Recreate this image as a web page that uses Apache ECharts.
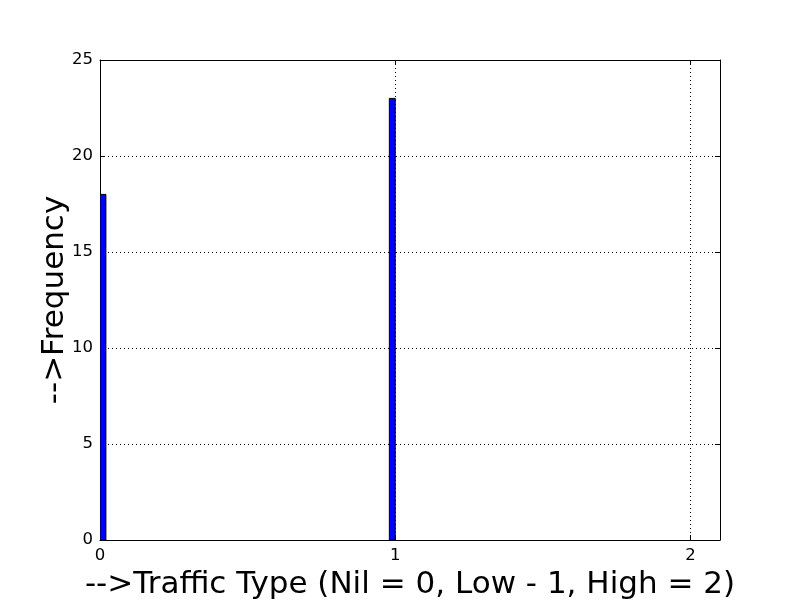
<!DOCTYPE html>
<html><head><meta charset="utf-8">
<script src="https://cdn.jsdelivr.net/npm/echarts@6/dist/echarts.min.js"></script>
<style>html,body{margin:0;padding:0;background:#fff}#c{width:800px;height:600px}</style>
</head><body><div id="c"></div>
<script>
const binStarts = [0, 0.98];
const binEnds = [0.02, 1.0];
const counts = [18, 23];
const xTicks = [0, 1, 2];
const yTicks = [0, 5, 10, 15, 20, 25];
const xTitle = '-->Traffic Type (Nil = 0, Low - 1, High = 2)';
const yTitle = '-->Frequency';

const font = 'DejaVu Sans';
const data = binStarts.map((s, i) => [s, binEnds[i], counts[i]]);
const axisLine = {show: true, onZero: false, lineStyle: {color: '#000', width: 1}};
const tick = {show: true, inside: true, length: 5, lineStyle: {color: '#000', width: 1}};

const chart = echarts.init(document.getElementById('c'), null, {renderer: 'canvas'});
chart.setOption({
  backgroundColor: '#fff',
  animation: false,
  grid: {left: 100, right: 80, top: 60, bottom: 60, containLabel: false, outerBoundsMode: 'none'},
  xAxis: [{
    type: 'value', min: 0, max: 2.1, interval: 1, position: 'bottom',
    axisLine: axisLine, axisTick: tick,
    axisLabel: {color: '#000', fontFamily: font, fontSize: 16.5, margin: 7,
      formatter: v => xTicks.indexOf(v) >= 0 ? String(v) : '', showMaxLabel: false},
    splitLine: {show: true, lineStyle: {color: '#000', type: [1, 3], width: 1}},
    name: xTitle, nameLocation: 'middle', nameGap: 29, nameMoveOverlap: false,
    nameTextStyle: {color: '#000', fontFamily: font, fontSize: 31}
  }, {
    type: 'value', min: 0, max: 2.1, interval: 1, position: 'top',
    axisLine: axisLine, axisTick: tick, axisLabel: {show: false}, splitLine: {show: false}
  }],
  yAxis: [{
    type: 'value', min: 0, max: 25, interval: 5, position: 'left',
    axisLine: axisLine, axisTick: tick,
    axisLabel: {color: '#000', fontFamily: font, fontSize: 16.5, margin: 7,
      formatter: v => yTicks.indexOf(v) >= 0 ? String(v) : ''},
    splitLine: {show: true, lineStyle: {color: '#000', type: [1, 3], width: 1}},
    name: yTitle, nameLocation: 'middle', nameGap: 30, nameMoveOverlap: false,
    nameTextStyle: {color: '#000', fontFamily: font, fontSize: 31}
  }, {
    type: 'value', min: 0, max: 25, interval: 5, position: 'right',
    axisLine: axisLine, axisTick: tick, axisLabel: {show: false}, splitLine: {show: false}
  }],
  series: [{
    type: 'custom',
    xAxisIndex: 0, yAxisIndex: 0,
    clip: true,
    data: data,
    encode: {x: [0, 1], y: 2},
    renderItem: function (params, api) {
      const p0 = api.coord([api.value(0), 0]);
      const p1 = api.coord([api.value(1), api.value(2)]);
      return {
        type: 'rect',
        shape: {x: p0[0], y: p1[1], width: p1[0] - p0[0], height: p0[1] - p1[1]},
        style: {fill: '#0000ff', stroke: '#000', lineWidth: 1}
      };
    }
  }]
});
</script></body></html>
